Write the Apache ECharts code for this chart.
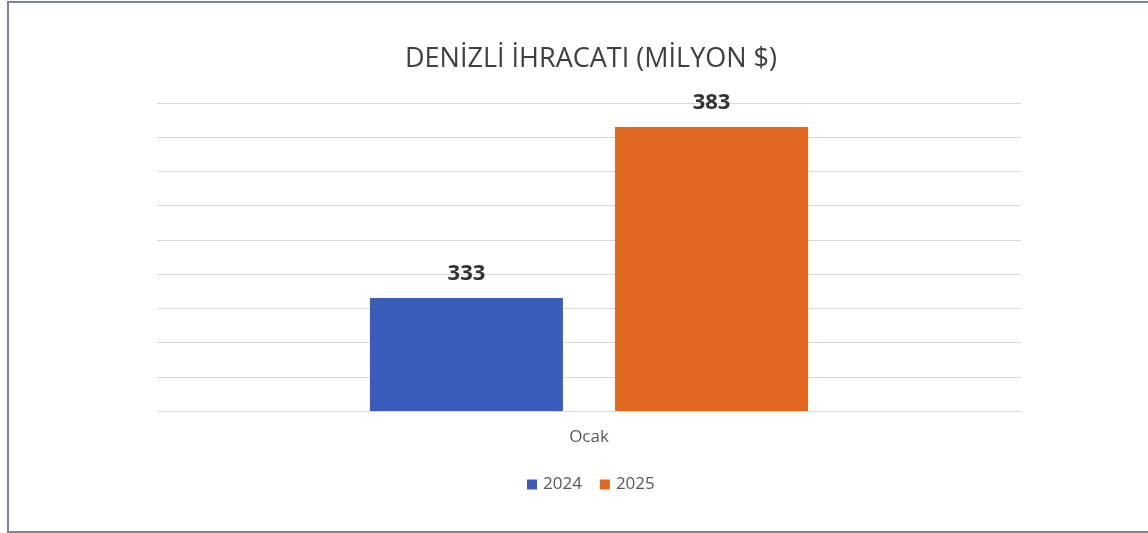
<!DOCTYPE html>
<html>
<head>
<meta charset="utf-8">
<script src="https://cdn.jsdelivr.net/npm/echarts@6/dist/echarts.min.js"></script>
<style>
  html, body { margin: 0; padding: 0; background: #fff; }
  #frame {
    position: absolute; left: 7px; top: 1px; width: 1150px; height: 532px;
    border: 2px solid #7d8596; box-sizing: border-box;
  }
  #chart { position: absolute; left: 0; top: 0; width: 1148px; height: 533px; }
</style>
</head>
<body>
<div id="frame"></div>
<div id="chart"></div>
<script>
const categories = ['Ocak'];
const years = ['2024', '2025'];
const values2024 = [333];
const values2025 = [383];

const chart = echarts.init(document.getElementById('chart'));

const labelStyle = {
    show: true,
    position: 'top',
    distance: 13,
    fontFamily: 'Open Sans',
    fontWeight: 'bold',
    fontSize: 22,
    color: '#333'
};

let option = {
    title: {
        text: 'DENİZLİ İHRACATI (MİLYON $)',
        left: 586,
        textAlign: 'center',
        top: 41,
        textStyle: {
            fontFamily: 'Open Sans',
            fontWeight: 'normal',
            fontSize: 27,
            color: '#404040'
        }
    },
    legend: {
        data: years,
        bottom: 35,
        left: 522,
        itemWidth: 10,
        itemHeight: 10,
        itemGap: 18,
        icon: 'rect',
        textStyle: {
            fontFamily: 'Open Sans',
            fontSize: 17,
            color: '#595959',
            padding: [0, 0, 0, 1]
        }
    },
    grid: {
        left: 157,
        right: 127,
        top: 103,
        bottom: 122
    },
    xAxis: {
        type: 'category',
        data: categories,
        axisTick: { show: false },
        axisLine: { lineStyle: { color: '#d9d9d9', width: 1 } },
        axisLabel: {
            margin: 18,
            fontFamily: 'Open Sans',
            fontSize: 17,
            color: '#595959'
        }
    },
    yAxis: {
        type: 'value',
        min: 300,
        max: 390,
        interval: 10,
        axisLabel: { show: false },
        axisLine: { show: false },
        axisTick: { show: false },
        splitLine: { lineStyle: { color: '#d9d9d9', width: 1 } }
    },
    series: [
        {
            name: years[0],
            type: 'bar',
            data: values2024,
            barWidth: 193,
            barGap: '27%',
            itemStyle: { color: '#3a5cbc' },
            label: labelStyle
        },
        {
            name: years[1],
            type: 'bar',
            data: values2025,
            barWidth: 193,
            barGap: '27%',
            itemStyle: { color: '#e2681f' },
            label: labelStyle
        }
    ]
};

chart.setOption(option);
</script>
</body>
</html>
